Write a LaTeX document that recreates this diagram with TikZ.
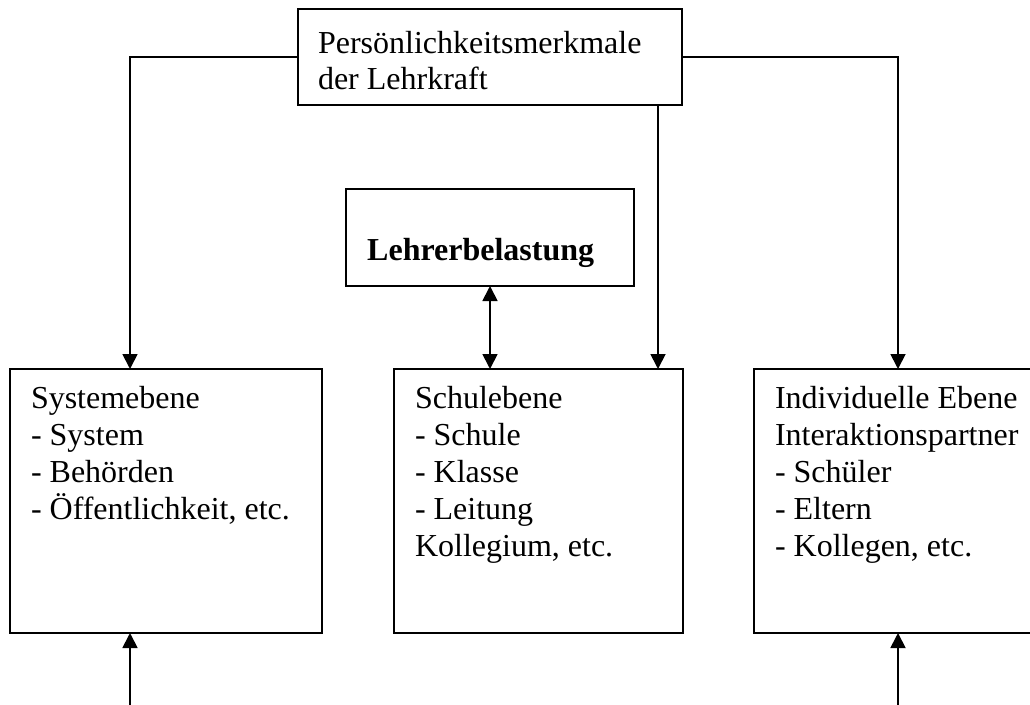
\documentclass[tikz,border=0pt]{standalone}
\usepackage{fontspec}
\setmainfont{Liberation Serif}
\usetikzlibrary{arrows.meta}
\begin{document}
\begin{tikzpicture}[x=1pt,y=-1pt,
  boxstyle/.style={draw,line width=2pt,inner sep=0pt,outer sep=0pt},
  txt/.style={inner sep=0pt,outer sep=0pt,align=left,anchor=north west,font=\fontsize{32}{37}\selectfont},
  tip/.tip={Triangle[length=15pt,width=15pt]},
  arr/.style={line width=1.8pt,-tip},
  darr/.style={line width=1.8pt,tip-tip}]
\clip (0,0) rectangle (1030,704);
\useasboundingbox (0,0) rectangle (1030,704);
% boxes
\node[boxstyle,minimum width=384pt,minimum height=96pt] (top) at (490,57) {};
\node[boxstyle,minimum width=288pt,minimum height=97pt] (lb) at (490,237.5) {};
\node[boxstyle,minimum width=312pt,minimum height=264pt] (sys) at (166,501) {};
\node[boxstyle,minimum width=289pt,minimum height=264pt] (sch) at (538.5,501) {};
\node[boxstyle,minimum width=310pt,minimum height=264pt] (ind) at (909,501) {};
% texts
\node[txt,font=\fontsize{32}{36}\selectfont] (ttop) at (318,31) {Persönlichkeitsmerkmale\\der Lehrkraft};
\node[inner sep=0pt,anchor=base west,font=\fontsize{32}{37}\selectfont\bfseries] (tlb) at (367,260) {Lehrerbelastung};
\node[txt] (tsys) at (31,386) {Systemebene\\- System\\- Behörden\\- Öffentlichkeit, etc.};
\node[txt] (tsch) at (415,386) {Schulebene\\- Schule\\- Klasse\\- Leitung\\Kollegium, etc.};
\node[txt] (tind) at (775,386) {Individuelle Ebene\\Interaktionspartner\\- Schüler\\- Eltern\\- Kollegen, etc.};
% coordinates
\coordinate (cl) at (130,57);
\coordinate (cr) at (898,57);
\coordinate (bl) at (130,706);
\coordinate (br) at (898,706);
% connectors
\draw[arr] (top.west) -- (cl) -- (cl |- sys.north);
\draw[arr] (top.east) -- (cr) -- (cr |- ind.north);
\draw[arr] (top.south -| 658,0) -- (sch.north -| 658,0);
\draw[darr] (lb.south) -- (lb.south |- sch.north);
\draw[arr] (bl) -- (bl |- sys.south);
\draw[arr] (br) -- (br |- ind.south);
\end{tikzpicture}
\end{document}
